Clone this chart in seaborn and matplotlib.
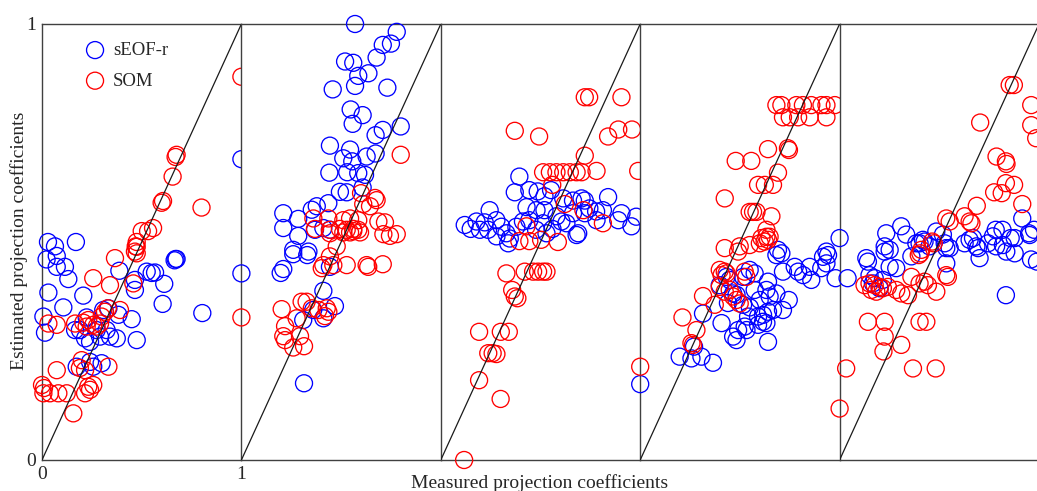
import numpy as np
import pandas as pd
import matplotlib
matplotlib.use('Agg')
import matplotlib.pyplot as plt
import seaborn as sns

sns.set_theme(style='white')
plt.rcParams['font.family'] = ['Liberation Serif', 'DejaVu Serif']

#%% values (measured, estimated), one pair of lists per panel and method
p1_eof_x = [0.03, 0.065, 0.17, 0.023, 0.074, 0.074, 0.115, 0.132, 0.032, 0.207, 0.107, 0.007, 0.015,
            0.388, 0.466, 0.466, 0.525, 0.55, 0.567, 0.67, 0.675, 0.665, 0.613, 0.605, 0.804, 1.0,
            0.224, 0.19, 0.216, 0.241, 0.274, 0.291, 0.324, 0.341, 0.375, 0.307, 0.333, 0.383, 0.45,
            0.475, 0.174, 0.241, 0.257, 0.299, 0.166]
p1_eof_y = [0.50, 0.49, 0.50, 0.46, 0.468, 0.443, 0.443, 0.415, 0.384, 0.377, 0.35, 0.329, 0.292,
            0.434, 0.413, 0.39, 0.432, 0.429, 0.43, 0.461, 0.461, 0.458, 0.404, 0.358, 0.337, 0.69,
            0.327, 0.298, 0.279, 0.271, 0.298, 0.283, 0.298, 0.283, 0.279, 0.344, 0.348, 0.333, 0.323,
            0.275, 0.214, 0.225, 0.214, 0.222, 0.298]
p1_som_x = [1.0, 0.675, 0.67, 0.655, 0.607, 0.60, 0.80, 0.557, 0.532, 0.50, 0.475, 0.47, 0.475, 0.466,
            0.475, 0.366, 0.257, 0.341, 0.458, 0.33, 0.316, 0.299, 0.391, 0.032, 0.074, 0.166, 0.207,
            0.232, 0.257, 0.291, 0.274, 0.224, 0.074, 0.199, 0.216, 0.19, 0.333, 0.0, 0.007, 0.04,
            0.082, 0.124, 0.232, 0.257, 0.216, 0.241, 0.157, 0.01]
p1_som_y = [0.879, 0.70, 0.695, 0.65, 0.594, 0.59, 0.579, 0.532, 0.525, 0.525, 0.50, 0.49, 0.489, 0.478,
            0.474, 0.463, 0.417, 0.401, 0.405, 0.348, 0.34, 0.329, 0.344, 0.313, 0.31, 0.313, 0.315,
            0.321, 0.31, 0.313, 0.306, 0.306, 0.206, 0.229, 0.206, 0.211, 0.214, 0.172, 0.153, 0.153,
            0.153, 0.153, 0.168, 0.172, 0.153, 0.161, 0.107, 0.165]

p2_eof_x = [0.0, 0.57, 0.779, 0.75, 0.709, 0.678, 0.52, 0.561, 0.637, 0.586, 0.57, 0.458, 0.732, 0.548,
            0.608, 0.558, 0.799, 0.709, 0.673, 0.444, 0.545, 0.628, 0.673, 0.511, 0.556, 0.441, 0.531,
            0.586, 0.62, 0.608, 0.494, 0.528, 0.436, 0.378, 0.353, 0.21, 0.285, 0.21, 0.285, 0.369,
            0.411, 0.444, 0.26, 0.336, 0.26, 0.33, 0.21, 0.197, 0.444, 0.411, 0.469, 0.36, 0.411,
            0.31, 0.314]
p2_eof_y = [0.428, 1.0, 0.982, 0.955, 0.952, 0.923, 0.914, 0.911, 0.887, 0.881, 0.858, 0.85, 0.854, 0.804,
            0.791, 0.771, 0.765, 0.757, 0.745, 0.721, 0.712, 0.696, 0.703, 0.692, 0.685, 0.659, 0.66,
            0.658, 0.654, 0.625, 0.615, 0.614, 0.589, 0.582, 0.574, 0.566, 0.553, 0.532, 0.514, 0.528,
            0.532, 0.528, 0.482, 0.478, 0.472, 0.47, 0.438, 0.429, 0.443, 0.388, 0.353, 0.344, 0.325,
            0.321, 0.176]
p2_som_x = [0.0, 0.799, 0.60, 0.67, 0.678, 0.611, 0.645, 0.361, 0.436, 0.511, 0.545, 0.586, 0.687, 0.72,
            0.369, 0.444, 0.494, 0.528, 0.561, 0.586, 0.712, 0.745, 0.779, 0.444, 0.511, 0.545, 0.561,
            0.595, 0.478, 0.444, 0.411, 0.403, 0.461, 0.528, 0.628, 0.636, 0.709, 0.202, 0.302, 0.327,
            0.353, 0.386, 0.428, 0.436, 0.419, 0.277, 0.219, 0.21, 0.219, 0.294, 0.314, 0.26]
p2_som_y = [0.327, 0.70, 0.612, 0.601, 0.596, 0.587, 0.582, 0.554, 0.554, 0.55, 0.554, 0.55, 0.547, 0.545,
            0.53, 0.528, 0.53, 0.528, 0.53, 0.528, 0.518, 0.514, 0.518, 0.52, 0.522, 0.522, 0.525,
            0.522, 0.49, 0.467, 0.447, 0.44, 0.447, 0.447, 0.447, 0.443, 0.449, 0.346, 0.363, 0.363,
            0.348, 0.344, 0.348, 0.34, 0.33, 0.325, 0.307, 0.284, 0.275, 0.284, 0.261, 0.258]

p3_eof_x = [0.394, 0.371, 0.444, 0.486, 0.52, 0.553, 0.839, 0.706, 0.722, 0.663, 0.614, 0.245, 0.43,
            0.48, 0.52, 0.745, 0.779, 0.813, 0.906, 0.98, 0.12, 0.179, 0.196, 0.237, 0.279, 0.304,
            0.329, 0.346, 0.379, 0.412, 0.444, 0.478, 0.513, 0.53, 0.58, 0.605, 0.63, 0.663, 0.689,
            0.722, 0.781, 0.89, 0.956, 0.338, 0.681, 0.279, 0.15, 0.22, 0.56]
p3_eof_y = [0.65, 0.614, 0.619, 0.616, 0.605, 0.619, 0.603, 0.6, 0.595, 0.595, 0.6, 0.573, 0.58,
            0.573, 0.573, 0.577, 0.57, 0.573, 0.566, 0.558, 0.539, 0.547, 0.528, 0.528, 0.55, 0.535,
            0.52, 0.508, 0.535, 0.547, 0.55, 0.528, 0.543, 0.52, 0.559, 0.547, 0.543, 0.566, 0.52,
            0.566, 0.55, 0.55, 0.536, 0.497, 0.516, 0.513, 0.53, 0.545, 0.53]
p3_som_x = [0.722, 0.744, 0.906, 0.371, 0.493, 0.839, 0.89, 0.959, 0.722, 0.781, 0.99, 0.513, 0.547,
            0.58, 0.614, 0.647, 0.681, 0.706, 0.559, 0.622, 0.715, 0.813, 0.43, 0.394, 0.444, 0.503,
            0.587, 0.329, 0.421, 0.463, 0.488, 0.513, 0.53, 0.358, 0.384, 0.371, 0.192, 0.301, 0.341,
            0.238, 0.279, 0.26, 0.192, 0.30, 0.117]
p3_som_y = [0.832, 0.832, 0.832, 0.755, 0.742, 0.742, 0.758, 0.758, 0.698, 0.663, 0.663, 0.66, 0.66,
            0.66, 0.66, 0.66, 0.66, 0.66, 0.631, 0.587, 0.573, 0.543, 0.536, 0.502, 0.502, 0.505,
            0.5, 0.428, 0.432, 0.432, 0.432, 0.432, 0.432, 0.39, 0.371, 0.375, 0.294, 0.294, 0.294,
            0.245, 0.243, 0.245, 0.183, 0.14, 0.0]

p4_eof_x = [0.0, 0.691, 0.934, 0.683, 0.708, 0.917, 0.942, 0.934, 0.98, 0.716, 0.775, 0.792, 0.817, 0.85,
            0.858, 0.908, 0.549, 0.574, 0.516, 0.449, 0.433, 0.641, 0.633, 0.683, 0.649, 0.399, 0.466,
            0.483, 0.516, 0.574, 0.599, 0.745, 0.716, 0.666, 0.641, 0.616, 0.591, 0.616, 0.633, 0.591,
            0.541, 0.524, 0.491, 0.466, 0.483, 0.533, 0.408, 0.315, 0.641, 0.27, 0.257, 0.198, 0.307,
            0.365, 0.44, 0.55]
p4_eof_y = [0.174, 0.482, 0.478, 0.47, 0.474, 0.466, 0.47, 0.451, 0.417, 0.432, 0.443, 0.432, 0.424, 0.443,
            0.413, 0.44, 0.436, 0.428, 0.42, 0.413, 0.42, 0.409, 0.39, 0.382, 0.375, 0.401, 0.382,
            0.379, 0.356, 0.39, 0.367, 0.367, 0.344, 0.344, 0.34, 0.333, 0.329, 0.317, 0.314, 0.31,
            0.329, 0.306, 0.298, 0.283, 0.275, 0.298, 0.314, 0.336, 0.271, 0.26, 0.233, 0.237, 0.237,
            0.223, 0.36, 0.35]
p4_som_x = [0.0, 0.683, 0.708, 0.783, 0.816, 0.858, 0.909, 0.934, 0.976, 0.716, 0.75, 0.792, 0.85, 0.934,
            0.641, 0.741, 0.746, 0.479, 0.557, 0.691, 0.591, 0.625, 0.666, 0.424, 0.549, 0.566, 0.583,
            0.658, 0.633, 0.608, 0.641, 0.633, 0.424, 0.499, 0.549, 0.491, 0.6, 0.649, 0.624, 0.399,
            0.424, 0.433, 0.408, 0.524, 0.532, 0.399, 0.424, 0.449, 0.466, 0.483, 0.499, 0.374, 0.315,
            0.212, 0.282, 0.257, 0.265]
p4_som_y = [0.214, 0.814, 0.814, 0.814, 0.814, 0.814, 0.814, 0.814, 0.814, 0.786, 0.786, 0.786, 0.786, 0.786,
            0.713, 0.715, 0.711, 0.686, 0.686, 0.659, 0.631, 0.631, 0.631, 0.6, 0.569, 0.569, 0.569,
            0.559, 0.528, 0.509, 0.505, 0.512, 0.486, 0.49, 0.493, 0.478, 0.497, 0.512, 0.501, 0.436,
            0.432, 0.428, 0.424, 0.432, 0.42, 0.397, 0.386, 0.39, 0.375, 0.367, 0.359, 0.356, 0.376,
            0.327, 0.298, 0.268, 0.264]

p5_eof_x = [0.0, 0.916, 0.234, 0.309, 0.334, 0.485, 0.518, 0.783, 0.817, 0.858, 0.95, 0.975, 0.652, 0.627,
            0.686, 0.744, 0.785, 0.385, 0.418, 0.451, 0.226, 0.535, 0.401, 0.426, 0.527, 0.552, 0.669,
            0.694, 0.702, 0.769, 0.819, 0.836, 0.878, 0.953, 0.878, 0.134, 0.142, 0.226, 0.251, 0.36,
            0.284, 0.251, 0.15, 0.176, 0.217, 0.04, 0.535, 0.834, 0.167, 0.201, 0.96, 0.99]
p5_eof_y = [0.509, 0.554, 0.52, 0.536, 0.517, 0.524, 0.517, 0.528, 0.528, 0.509, 0.52, 0.528, 0.505, 0.497,
            0.49, 0.497, 0.49, 0.497, 0.505, 0.49, 0.49, 0.486, 0.497, 0.501, 0.497, 0.486, 0.509,
            0.486, 0.463, 0.513, 0.493, 0.478, 0.474, 0.516, 0.509, 0.463, 0.455, 0.478, 0.482, 0.467,
            0.44, 0.443, 0.424, 0.417, 0.413, 0.417, 0.451, 0.378, 0.405, 0.394, 0.46, 0.455]
p5_som_x = [0.853, 0.874, 0.961, 0.705, 0.961, 0.986, 0.787, 0.834, 0.837, 0.834, 0.875, 0.775, 0.813,
            0.916, 0.688, 0.535, 0.552, 0.627, 0.652, 0.661, 0.472, 0.464, 0.41, 0.397, 0.405, 0.535,
            0.543, 0.36, 0.401, 0.426, 0.485, 0.443, 0.125, 0.15, 0.176, 0.201, 0.217, 0.242, 0.159,
            0.184, 0.284, 0.309, 0.343, 0.142, 0.226, 0.401, 0.435, 0.226, 0.22, 0.309, 0.033, 0.368,
            0.482, 0.0]
p5_som_y = [0.86, 0.86, 0.814, 0.774, 0.768, 0.738, 0.696, 0.685, 0.679, 0.635, 0.631, 0.614, 0.612,
            0.587, 0.583, 0.554, 0.547, 0.559, 0.547, 0.543, 0.497, 0.501, 0.482, 0.47, 0.474, 0.424,
            0.42, 0.42, 0.405, 0.409, 0.386, 0.401, 0.401, 0.405, 0.401, 0.397, 0.394, 0.397, 0.39,
            0.386, 0.39, 0.382, 0.378, 0.317, 0.317, 0.317, 0.317, 0.283, 0.249, 0.264, 0.21, 0.21,
            0.21, 0.118]

methods = ['sEOF-r', 'SOM']
colors = {'sEOF-r': 'blue', 'SOM': 'red'}

#%% long table
frames = []
for k, (ex, ey, sx, sy) in enumerate([(p1_eof_x, p1_eof_y, p1_som_x, p1_som_y),
                                      (p2_eof_x, p2_eof_y, p2_som_x, p2_som_y),
                                      (p3_eof_x, p3_eof_y, p3_som_x, p3_som_y),
                                      (p4_eof_x, p4_eof_y, p4_som_x, p4_som_y),
                                      (p5_eof_x, p5_eof_y, p5_som_x, p5_som_y)]):
    frames.append(pd.DataFrame({'panel': k, 'method': 'sEOF-r', 'measured': ex, 'estimated': ey}))
    frames.append(pd.DataFrame({'panel': k, 'method': 'SOM', 'measured': sx, 'estimated': sy}))
df = pd.concat(frames, ignore_index=True)

#%% figure, 5 panels side by side (last one runs off the right edge)
fig = plt.figure(figsize=(10.37, 4.91), dpi=100)
W, H = 1037., 491.
x0, pw, y0, ph = 42., 199.4, 31., 436.
axes = []
for k in range(5):
    ax = fig.add_axes([(x0 + k*pw)/W, y0/H, pw/W, ph/H])
    ax.set_facecolor('white')
    sub = df[df['panel'] == k]
    for m in methods:
        d = sub[sub['method'] == m]
        sns.scatterplot(x='measured', y='estimated', data=d, ax=ax, color=colors[m],
                        facecolors='none', edgecolor=colors[m], s=150, linewidth=0.95,
                        clip_on=False, label=m, legend=False, zorder=3)
    ax.plot([0, 1], [0, 1], color='k', lw=0.9, zorder=4)
    ax.set_xlim(0, 1)
    ax.set_ylim(0, 1)
    ax.set_xlabel('')
    ax.set_ylabel('')
    for s in ['left', 'top', 'bottom']:
        ax.spines[s].set_visible(True)
        ax.spines[s].set_color('0.25')
        ax.spines[s].set_linewidth(1.0)
    ax.spines['right'].set_visible(False)
    ax.tick_params(length=0, labelsize=14)
    if k == 0:
        ax.set_xticks([0, 1])
        ax.set_xticklabels(['0', '1'])
        ax.set_yticks([0, 1])
        ax.set_yticklabels(['0', '1'])
        ax.tick_params(axis='x', pad=4)
        ax.tick_params(axis='y', pad=4)
    else:
        ax.set_xticks([])
        ax.set_yticks([])
    axes.append(ax)

h, l = axes[0].get_legend_handles_labels()
axes[0].legend(h, l, loc='upper left', bbox_to_anchor=(0.219, 0.959), frameon=False,
               fontsize=13.5, borderpad=0, handlelength=1.0, handletextpad=0.45,
               labelspacing=0.72, borderaxespad=0)

fig.text(540/W, 0.006, 'Measured projection coefficients', ha='center', va='baseline', fontsize=14)
fig.text(19/W, 0.51, 'Estimated projection coefficients', ha='center', va='center',
         rotation=90, fontsize=14)

plt.savefig('out.png', dpi=100, facecolor='white')
